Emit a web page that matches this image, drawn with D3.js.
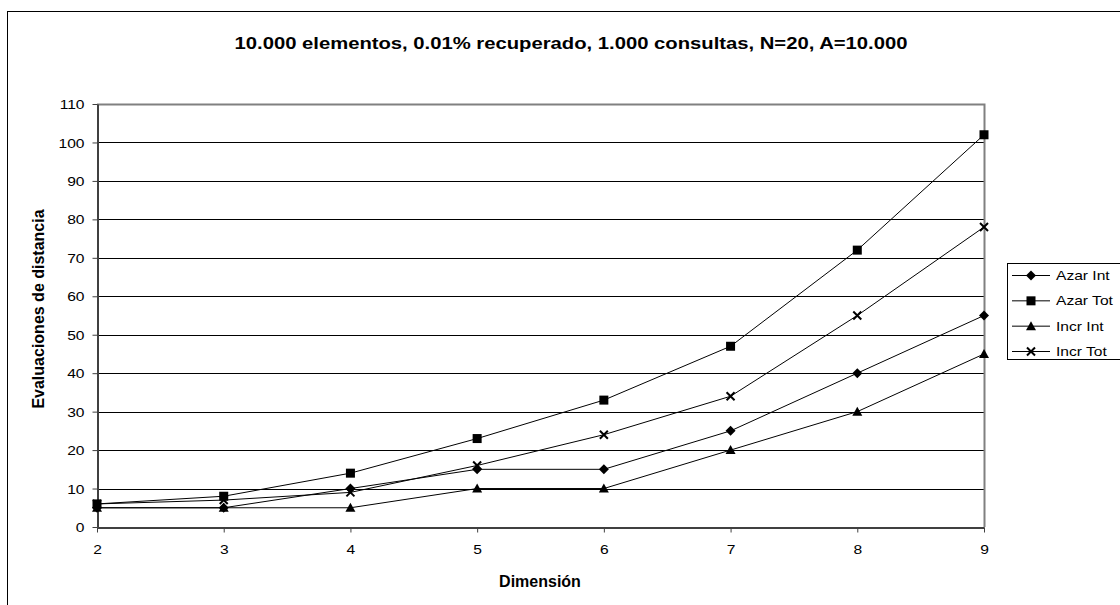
<!DOCTYPE html>
<html>
<head>
<meta charset="utf-8">
<script src="https://cdn.jsdelivr.net/npm/d3@7"></script>
<style>
  html, body { margin: 0; padding: 0; background: #fff; }
  svg { display: block; font-family: "Liberation Sans", Arial, sans-serif; }
</style>
</head>
<body>
<svg id="chart" width="1120" height="605"></svg>
<script>
// Dimension values on the x axis
const dimensions = [2, 3, 4, 5, 6, 7, 8, 9];
// Distance evaluations per series
const azarInt = [5, 5, 10, 15, 15, 25, 40, 55];
const azarTot = [6, 8, 14, 23, 33, 47, 72, 102];
const incrInt = [5, 5, 5, 10, 10, 20, 30, 45];
const incrTot = [6, 7, 9, 16, 24, 34, 55, 78];
const seriesNames = ["Azar Int", "Azar Tot", "Incr Int", "Incr Tot"];
const yTicks = [0, 10, 20, 30, 40, 50, 60, 70, 80, 90, 100, 110];

const chartTitle = "10.000 elementos, 0.01% recuperado, 1.000 consultas, N=20, A=10.000";
const xTitle = "Dimensión";
const yTitle = "Evaluaciones de distancia";

const series = [
  { name: seriesNames[0], values: azarInt, marker: "diamond" },
  { name: seriesNames[1], values: azarTot, marker: "square" },
  { name: seriesNames[2], values: incrInt, marker: "triangle" },
  { name: seriesNames[3], values: incrTot, marker: "cross" }
];

// Tick and legend text is drawn slightly wide
const STRETCH = 1.2;

const svg = d3.select("#chart");
const plot = { left: 97, right: 984, top: 104, bottom: 527 };

const x = d3.scaleLinear().domain([2, 9]).range([plot.left, plot.right]);
const y = d3.scaleLinear().domain([0, 110]).range([plot.bottom, plot.top]);

// Outer chart frame
svg.append("rect")
  .attr("x", 7.5).attr("y", 11.5)
  .attr("width", 1200).attr("height", 700)
  .attr("fill", "#fff").attr("stroke", "#000").attr("stroke-width", 1);

// Title
svg.append("text")
  .attr("x", 571).attr("y", 48.5)
  .attr("text-anchor", "middle")
  .attr("font-size", 16).attr("font-weight", "bold")
  .attr("textLength", 673).attr("lengthAdjust", "spacingAndGlyphs")
  .text(chartTitle);

// Horizontal gridlines
svg.append("g")
  .selectAll("line")
  .data(yTicks.filter(d => d > 0 && d < 110))
  .join("line")
  .attr("x1", plot.left).attr("x2", plot.right)
  .attr("y1", d => Math.round(y(d)) + 0.5).attr("y2", d => Math.round(y(d)) + 0.5)
  .attr("stroke", "#000").attr("stroke-width", 1);

// Plot area border (top and right)
svg.append("path")
  .attr("d", `M${plot.left},${plot.top + 0.5}H${plot.right + 0.5}V${plot.bottom}`)
  .attr("fill", "none").attr("stroke", "#808080").attr("stroke-width", 2);

// Y axis
const yAxis = svg.append("g")
  .attr("transform", `translate(${plot.left + 0.5},0)`)
  .call(d3.axisLeft(y).tickValues(yTicks).tickSize(5).tickPadding(8).tickSizeOuter(0));
yAxis.attr("font-size", 13).attr("font-family", "Liberation Sans, Arial, sans-serif");
yAxis.select(".domain").attr("stroke", "#404040").attr("stroke-width", 2);
yAxis.selectAll(".tick line").attr("stroke", "#404040");
yAxis.selectAll(".tick text")
  .style("font-size", "13px").attr("fill", "#000")
  .attr("x", null).attr("dy", "0.35em")
  .attr("transform", `translate(-13,0) scale(${STRETCH},1)`);

// X axis
const xAxis = svg.append("g")
  .attr("transform", `translate(0,${plot.bottom + 0.5})`)
  .call(d3.axisBottom(x).tickValues(dimensions).tickFormat(d3.format("d")).tickSize(5).tickPadding(12).tickSizeOuter(0));
xAxis.attr("font-size", 13).attr("font-family", "Liberation Sans, Arial, sans-serif");
xAxis.select(".domain").attr("stroke", "#404040").attr("stroke-width", 2);
xAxis.selectAll(".tick line").attr("stroke", "#404040");
xAxis.selectAll(".tick text")
  .style("font-size", "13px").attr("fill", "#000")
  .attr("transform", `scale(${STRETCH},1)`)
  .attr("x", 0);

// Axis titles
svg.append("text")
  .attr("x", 540).attr("y", 587)
  .attr("text-anchor", "middle")
  .attr("font-size", 16).attr("font-weight", "bold")
  .text(xTitle);

svg.append("text")
  .attr("transform", "translate(43.5,309) rotate(-90)")
  .attr("text-anchor", "middle")
  .attr("font-size", 16).attr("font-weight", "bold")
  .text(yTitle);

// Marker drawing
function drawMarker(g, type, cx, cy) {
  if (type === "diamond") {
    g.append("path").attr("d", `M${cx},${cy - 5}L${cx + 5},${cy}L${cx},${cy + 5}L${cx - 5},${cy}Z`).attr("fill", "#000");
  } else if (type === "square") {
    g.append("rect").attr("x", cx - 4.5).attr("y", cy - 4.5).attr("width", 9).attr("height", 9).attr("fill", "#000");
  } else if (type === "triangle") {
    g.append("path").attr("d", `M${cx},${cy - 5}L${cx + 5},${cy + 4}L${cx - 5},${cy + 4}Z`).attr("fill", "#000");
  } else {
    g.append("path").attr("d", `M${cx - 4},${cy - 4}L${cx + 4},${cy + 4}M${cx + 4},${cy - 4}L${cx - 4},${cy + 4}`)
      .attr("stroke", "#000").attr("stroke-width", 2).attr("fill", "none");
  }
}

const line = d3.line()
  .x((d, i) => x(dimensions[i]))
  .y(d => y(d));

const seriesG = svg.append("g");
series.forEach(s => {
  seriesG.append("path")
    .attr("d", line(s.values))
    .attr("fill", "none").attr("stroke", "#000").attr("stroke-width", 1);
});
series.forEach(s => {
  const mg = seriesG.append("g");
  s.values.forEach((v, i) => drawMarker(mg, s.marker, x(dimensions[i]), y(v)));
});

// Legend
const legend = svg.append("g");
legend.append("rect")
  .attr("x", 1007.5).attr("y", 263.5)
  .attr("width", 200).attr("height", 96)
  .attr("fill", "#fff").attr("stroke", "#000").attr("stroke-width", 1);
const legendY = d3.scalePoint().domain(seriesNames).range([275, 351]);
series.forEach(s => {
  const ly = legendY(s.name);
  legend.append("line")
    .attr("x1", 1012).attr("x2", 1050)
    .attr("y1", ly + 0.5).attr("y2", ly + 0.5)
    .attr("stroke", "#000").attr("stroke-width", 1);
  drawMarker(legend, s.marker, 1031, ly + 0.5);
  legend.append("text")
    .attr("transform", `translate(1056,${ly + 5}) scale(${STRETCH},1)`)
    .attr("font-size", 13)
    .text(s.name);
});
</script>
</body>
</html>
